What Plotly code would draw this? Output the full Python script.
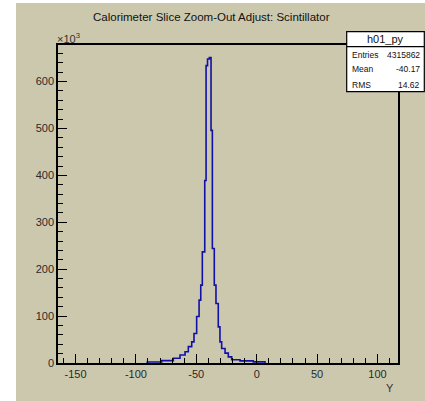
import plotly.graph_objects as go

# ---- data (x in Y units, counts in thousands) ----
bin_edges = [-90.6, -78.6, -69.0, -63.5, -59.3, -56.6, -53.8, -51.9, -49.7, -47.7,
             -46.3, -45.0, -43.0, -41.9, -40.7, -39.2, -37.8, -36.7, -35.1, -33.7,
             -31.8, -30.4, -29.0, -26.2, -23.5, -20.7, -13.8, -2.8, 6.9]
bin_counts_k = [2, 5, 10, 17, 24, 35, 45, 63, 99, 134,
                166, 237, 389, 634, 648, 651, 496, 244, 166, 127,
                77, 45, 31, 21, 13, 7, 4.5, 2.5]
x_ticks = [-150, -100, -50, 0, 50, 100]
y_ticks = [0, 100, 200, 300, 400, 500, 600]
title_text = "Calorimeter Slice Zoom-Out Adjust: Scintillator"
stat_name = "h01_py"
stat_labels = ["Entries", "Mean", "RMS"]
stat_values = ["4315862", "-40.17", "14.62"]

# ---- layout geometry ----
W, H = 425, 401
L, R, T, B = 58, 398, 45, 363
BEIGE = "#ccc8ad"
FONT = "Liberation Sans, Arial, sans-serif"


def px(x):
    return (x - L) / (R - L)


def py(y):
    return (B - y) / (B - T)


xs = [bin_edges[0]] + bin_edges
ys = [0] + bin_counts_k + [0]

fig = go.Figure()
fig.add_trace(go.Scatter(
    x=xs, y=ys, mode="lines", line=dict(color="#1010a8", width=1.6, shape="hv"),
    hoverinfo="skip", showlegend=False))

fig.update_layout(
    width=W, height=H,
    margin=dict(l=L, r=W - R, t=T, b=H - B, pad=0),
    paper_bgcolor=BEIGE, plot_bgcolor=BEIGE,
    font=dict(family=FONT, color="#222222", size=11),
    showlegend=False,
)
fig.update_xaxes(
    range=[-164.5, 117.0], tickvals=x_ticks, ticktext=[str(v) for v in x_ticks],
    ticks="inside", ticklen=9, tickwidth=1.3, tickcolor="black",
    minor=dict(dtick=10, tick0=0, ticks="inside", ticklen=5, tickwidth=1.2, tickcolor="black"),
    showline=True, linecolor="black", linewidth=1.5, mirror=True,
    showgrid=False, zeroline=False, tickfont=dict(size=11, color="#2a2a2a"),
)
fig.update_yaxes(
    range=[0, 678], tickvals=y_ticks, ticktext=[str(v) for v in y_ticks],
    ticks="inside", ticklen=9, tickwidth=1.3, tickcolor="black",
    minor=dict(dtick=20, tick0=0, ticks="inside", ticklen=5, tickwidth=1.2, tickcolor="black"),
    showline=True, linecolor="black", linewidth=1.5, mirror=True,
    showgrid=False, zeroline=False, tickfont=dict(size=11, color="#2a2a2a"),
)

shapes = []
# white strips outside canvas
shapes.append(dict(type="rect", xref="paper", yref="paper", x0=px(0), x1=px(16),
                   y0=py(H + 5), y1=py(-5), fillcolor="white", line=dict(width=0), layer="above"))
shapes.append(dict(type="rect", xref="paper", yref="paper", x0=px(16), x1=px(W + 5),
                   y0=py(3), y1=py(-5), fillcolor="white", line=dict(width=0), layer="above"))
# stat box
shapes.append(dict(type="rect", xref="paper", yref="paper", x0=px(346.7), x1=px(424.3),
                   y0=py(91.7), y1=py(31.7), fillcolor="white",
                   line=dict(color="black", width=1.2), layer="above"))
shapes.append(dict(type="line", xref="paper", yref="paper", x0=px(346.7), x1=px(424.3),
                   y0=py(46.7), y1=py(46.7), line=dict(color="black", width=1.2), layer="above"))
fig.update_layout(shapes=shapes)

ann = []
ann.append(dict(text=title_text, xref="paper", yref="paper", x=px(211), y=py(17),
                xanchor="center", yanchor="middle", showarrow=False,
                font=dict(size=11.5, color="#111111")))
ann.append(dict(text="\u00d710<sup>3</sup>", xref="paper", yref="paper", x=px(55), y=py(38),
                xanchor="left", yanchor="middle", showarrow=False,
                font=dict(size=11, color="#333333")))
ann.append(dict(text="Y", xref="paper", yref="paper", x=px(396), y=py(388),
                xanchor="right", yanchor="middle", showarrow=False,
                font=dict(size=11, color="#333333")))
ann.append(dict(text=stat_name, xref="paper", yref="paper", x=px(385.5), y=py(39),
                xanchor="center", yanchor="middle", showarrow=False,
                font=dict(size=11, color="#111111")))
for i, (lab, val) in enumerate(zip(stat_labels, stat_values)):
    yy = [54.5, 69, 85][i]
    ann.append(dict(text=lab, xref="paper", yref="paper", x=px(349.5), y=py(yy),
                    xanchor="left", yanchor="middle", showarrow=False,
                    font=dict(size=8.5, color="#111111")))
    ann.append(dict(text=val, xref="paper", yref="paper", x=px(422), y=py(yy),
                    xanchor="right", yanchor="middle", showarrow=False,
                    font=dict(size=8.5, color="#111111")))
fig.update_layout(annotations=ann)

fig.write_html("out.html")
